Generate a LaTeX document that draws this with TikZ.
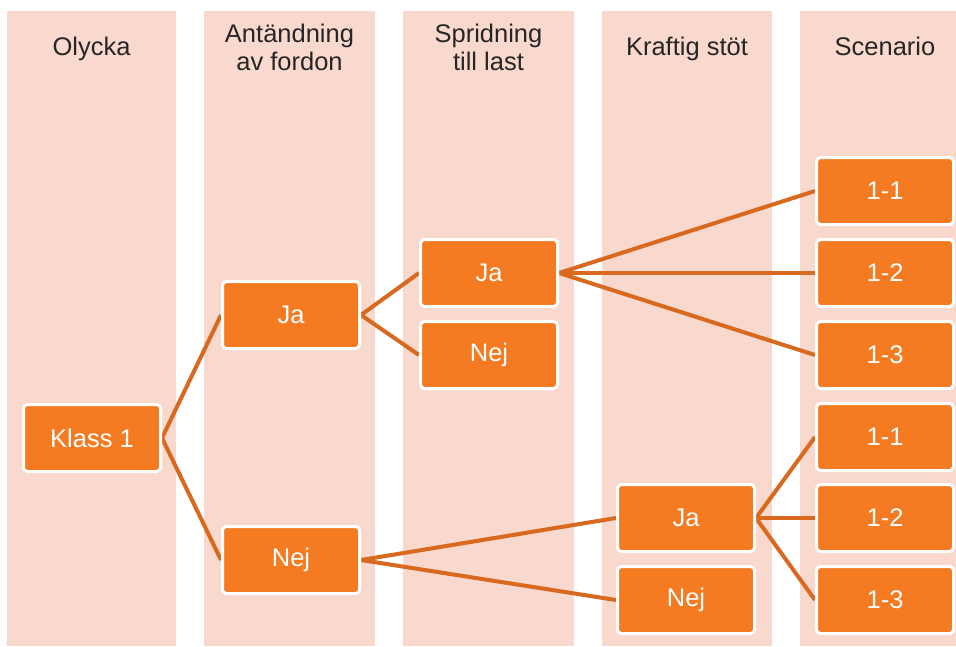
\documentclass[tikz,border=0pt]{standalone}
\usepackage{fontspec}
\setmainfont{Liberation Sans}
\usetikzlibrary{backgrounds}
\definecolor{colbg}{HTML}{F9D8CD}
\definecolor{boxor}{HTML}{F47B22}
\definecolor{lineor}{HTML}{D8691E}
\definecolor{headtxt}{HTML}{262626}
\begin{document}
\begin{tikzpicture}[x=1pt,y=-1pt,
  band/.style={fill=colbg, draw=none},
  box/.style={rectangle, rounded corners=4pt, fill=boxor, draw=white, line width=3pt,
    minimum width=137pt, minimum height=67pt, inner sep=0pt, text=white,
    font=\fontsize{25.5}{28}\selectfont},
  head/.style={text=headtxt, align=center, inner sep=0pt,
    font=\fontsize{25.5}{28}\selectfont},
  link/.style={draw=lineor, line width=4pt}]
\useasboundingbox (0,0) rectangle (956,646);
% headers
\node[head, anchor=base] (h1) at (91.5,55) {Olycka};
\node[head] (h2) at (289.5,47) {Antändning\\av fordon};
\node[head] (h3) at (488.5,47) {Spridning\\till last};
\node[head, anchor=base] (h4) at (687,55) {Kraftig stöt};
\node[head, anchor=base] (h5) at (885,55) {Scenario};
% boxes
\node[box] (k1) at (92,438) {Klass 1};
\node[box] (aja) at (291,315) {Ja};
\node[box] (anej) at (291,560) {Nej};
\node[box] (sja) at (489,273) {Ja};
\node[box] (snej) at (489,355) {Nej};
\node[box] (kja) at (686,518) {Ja};
\node[box] (knej) at (686,600) {Nej};
\node[box] (s11) at (885,191) {1-1};
\node[box] (s12) at (885,273) {1-2};
\node[box] (s13) at (885,355) {1-3};
\node[box] (t11) at (885,437) {1-1};
\node[box] (t12) at (885,518) {1-2};
\node[box] (t13) at (885,600) {1-3};
\begin{scope}[on background layer]
  \fill[white] (0,0) rectangle (956,646);
  \fill[band] (7,11) rectangle (176,646);
  \fill[band] (204,11) rectangle (375,646);
  \fill[band] (403,11) rectangle (574,646);
  \fill[band] (602,11) rectangle (772,646);
  \fill[band] (800,11) rectangle (970,646);
  \draw[link] (k1.east) -- (aja.west);
  \draw[link] (k1.east) -- (anej.west);
  \draw[link] (aja.east) -- (sja.west);
  \draw[link] (aja.east) -- (snej.west);
  \draw[link] (anej.east) -- (kja.west);
  \draw[link] (anej.east) -- (knej.west);
  \draw[link] (sja.east) -- (s11.west);
  \draw[link] (sja.east) -- (s12.west);
  \draw[link] (sja.east) -- (s13.west);
  \draw[link] (kja.east) -- (t11.west);
  \draw[link] (kja.east) -- (t12.west);
  \draw[link] (kja.east) -- (t13.west);
\end{scope}
\end{tikzpicture}
\end{document}
